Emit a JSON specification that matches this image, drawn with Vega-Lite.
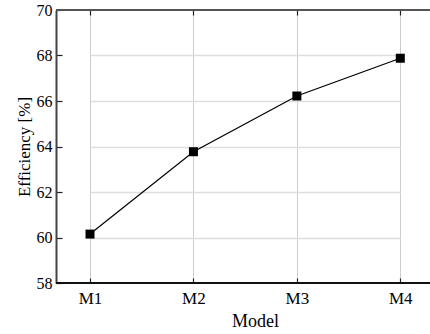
{
  "$schema": "https://vega.github.io/schema/vega-lite/v6.json",
  "autosize": "none",
  "width": 374,
  "height": 273,
  "padding": {"left": 56, "top": 10, "right": 0, "bottom": 51},
  "background": "white",
  "config": {
    "view": {"stroke": null},
    "font": "Liberation Serif",
    "axis": {
      "labelFont": "Liberation Serif",
      "titleFont": "Liberation Serif",
      "labelFontSize": 16,
      "titleFontSize": 17,
      "labelColor": "black",
      "titleColor": "black",
      "titleFontWeight": "normal",
      "tickColor": "#222",
      "tickWidth": 1.2
    }
  },
  "data": {
    "values": [
      {"model": "M1", "efficiency": 60.15},
      {"model": "M2", "efficiency": 63.77},
      {"model": "M3", "efficiency": 66.22},
      {"model": "M4", "efficiency": 67.88}
    ]
  },
  "resolve": {"axis": {"x": "independent"}},
  "layer": [
    {
      "mark": {"type": "line", "color": "black", "strokeWidth": 1.2},
      "encoding": {
        "x": {
          "field": "model", "type": "ordinal",
          "scale": {"type": "point", "range": [34, 344.3], "padding": 0},
          "axis": {
            "orient": "bottom", "title": "Model", "labelAngle": 0,
            "labelFontSize": 17, "titleFontSize": 18, "titleX": 199,
            "domain": false, "grid": true, "gridColor": "#cccccc", "gridWidth": 1,
            "tickSize": -5, "labelPadding": 12, "titlePadding": 6
          }
        },
        "y": {
          "field": "efficiency", "type": "quantitative",
          "scale": {"domain": [58, 70], "nice": false, "zero": false},
          "axis": {
            "title": "Efficiency [%]",
            "values": [58, 59, 60, 61, 62, 63, 64, 65, 66, 67, 68, 69, 70],
            "labelExpr": "datum.value % 2 == 0 ? datum.label : ''",
            "domainColor": "#444", "domainWidth": 2,
            "grid": true, "gridColor": "#dddddd", "gridWidth": 1.5,
            "gridOpacity": {"condition": {"test": "datum.value % 2 == 1 || datum.value == 58 || datum.value == 70", "value": 0}, "value": 1},
            "tickSize": {"condition": {"test": "datum.value % 2 == 1", "value": -3}, "value": -6},
            "labelPadding": 10, "titlePadding": 3
          }
        }
      }
    },
    {
      "mark": {"type": "point", "shape": "square", "filled": true, "color": "black", "size": 81, "opacity": 1},
      "encoding": {
        "x": {
          "field": "model", "type": "ordinal",
          "axis": {
            "orient": "top", "title": null, "labels": false, "domain": false,
            "grid": false, "tickSize": -5
          }
        },
        "y": {"field": "efficiency", "type": "quantitative"}
      }
    },
    {
      "mark": {"type": "rule", "color": "#111", "strokeWidth": 1.5},
      "encoding": {"y": {"datum": 58}}
    },
    {
      "mark": {"type": "rule", "color": "#555", "strokeWidth": 1.5},
      "encoding": {"y": {"datum": 70}}
    }
  ]
}
